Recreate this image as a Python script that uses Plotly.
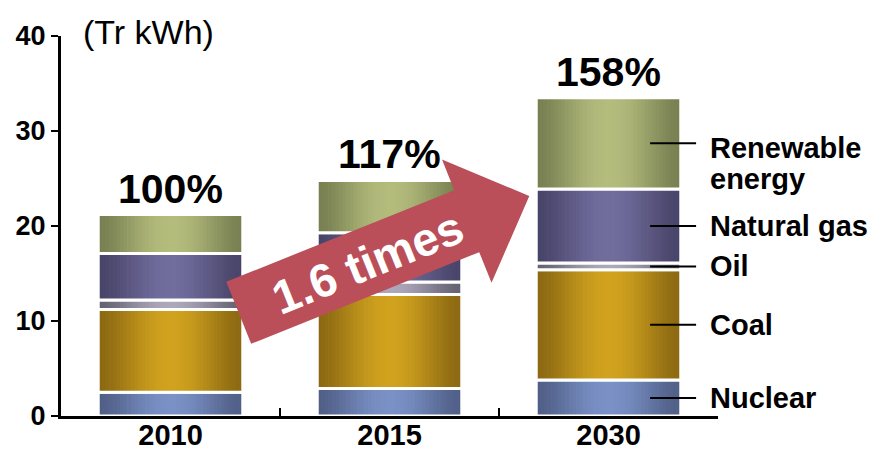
import numpy as np
import plotly.graph_objects as go

# Electricity generation by source (trillion kWh)
years = ["2010", "2015", "2030"]
sources = ["Nuclear", "Coal", "Oil", "Natural gas", "Renewable<br>energy"]
nuclear = [2.5, 2.9, 3.8]
coal = [8.7, 9.9, 11.6]
oil = [1.0, 1.3, 0.7]
natural_gas = [4.9, 5.2, 7.8]
renewable = [4.1, 5.5, 9.6]
growth_labels = ["100%", "117%", "158%"]
y_ticks = [0, 10, 20, 30, 40]
arrow_text = "1.6 times"
unit_text = "(Tr kWh)"

# (edge colour, centre colour) of the horizontal shading of each segment
shades = [
    ((80, 95, 135), (122, 145, 198)),    # nuclear
    ((140, 105, 18), (208, 162, 30)),    # coal
    ((100, 98, 115), (172, 168, 186)),   # oil
    ((72, 68, 105), (112, 108, 156)),    # natural gas
    ((120, 128, 82), (180, 188, 124)),   # renewable
]

FONT = "Liberation Sans, Arial, sans-serif"
W_PX, H_PX = 886, 450
M_L, M_R, M_T, M_B = 61, 168, 36, 34
PLOT_W = W_PX - M_L - M_R
PLOT_H = H_PX - M_T - M_B

segments = [nuclear, coal, oil, natural_gas, renewable]
bases = np.cumsum([[0.0] * len(years)] + segments[:-1], axis=0)
totals = np.sum(segments, axis=0)

fig = go.Figure()

BAR_W = 0.66
N_STRIPS = 40
strip_w = BAR_W / N_STRIPS
for seg, base, (edge, centre) in zip(segments, bases, shades):
    edge = np.array(edge, float)
    centre = np.array(centre, float)
    for k in range(N_STRIPS):
        t = (k + 0.5) / N_STRIPS
        f = np.sin(np.pi * t) ** 1.6
        c = edge + (centre - edge) * f
        colour = "rgb(%d,%d,%d)" % tuple(np.round(c).astype(int))
        w = strip_w * (1.2 if k < N_STRIPS - 1 else 1.0)
        fig.add_trace(go.Bar(
            x=years, y=seg, base=base,
            width=w, offset=-BAR_W / 2 + k * strip_w,
            marker=dict(color=colour, line=dict(width=0)),
            hoverinfo="skip", showlegend=False,
        ))
    # white separators round each segment
    fig.add_trace(go.Bar(
        x=years, y=seg, base=base,
        width=BAR_W, offset=-BAR_W / 2,
        marker=dict(color="rgba(0,0,0,0)", line=dict(color="white", width=3)),
        hoverinfo="skip", showlegend=False,
    ))

annotations = []
shapes = []

# growth percentages above the bars (category positions by index)
for i, (tot, lab) in enumerate(zip(totals, growth_labels)):
    annotations.append(dict(
        x=i, y=float(tot), xref="x", yref="y", text=lab, showarrow=False,
        yanchor="bottom", yshift=1,
        font=dict(family=FONT, size=41, color="black", weight="bold"),
    ))

# leader lines and source names beside the last bar
last = len(years) - 1
for name, seg, base in zip(sources, segments, bases):
    mid = float(base[last] + seg[last] / 2)
    shapes.append(dict(
        type="line", xref="x", yref="y",
        x0=last + 0.19, x1=last + 0.40, y0=mid, y1=mid,
        line=dict(color="black", width=2), layer="above",
    ))
    lines = name.split("<br>")
    for j, line in enumerate(lines):
        shift = -(5 + 31 * j) if len(lines) > 1 else 0
        annotations.append(dict(
            x=last + 0.455, y=mid, xref="x", yref="y", text=line,
            showarrow=False, xanchor="left", yanchor="middle",
            yshift=shift,
            font=dict(family=FONT, size=29, color="black", weight="bold"),
        ))

# unit label
annotations.append(dict(
    x=(81 - M_L) / PLOT_W, y=(H_PX - M_B - 32) / PLOT_H,
    xref="paper", yref="paper", text=unit_text, showarrow=False,
    xanchor="left", yanchor="middle",
    font=dict(family=FONT, size=34, color="black"),
))


# growth arrow, laid out in pixels and converted to paper coordinates
def to_paper(px, py):
    return (px - M_L) / PLOT_W, (H_PX - M_B - py) / PLOT_H


tail = np.array([238.7, 312.8])
tip = np.array([529.3, 196.0])
u = (tip - tail) / np.linalg.norm(tip - tail)
n = np.array([u[1], -u[0]])  # points up-left
head_len = 67.4
body_hw, head_hw = 33.4, 66.4
neck = tip - u * head_len
pts = [
    tail + n * body_hw,
    neck + n * body_hw,
    neck + n * head_hw,
    tip,
    neck - n * head_hw,
    neck - n * body_hw,
    tail - n * body_hw,
]
path = ""
for i, p in enumerate(pts):
    x, y = to_paper(*p)
    path += ("M" if i == 0 else "L") + " %.5f,%.5f " % (x, y)
path += "Z"
shapes.append(dict(
    type="path", xref="paper", yref="paper", path=path,
    fillcolor="#BA4F5A", line=dict(width=0), layer="above",
))
angle = np.degrees(np.arctan2(-(tip[1] - tail[1]), tip[0] - tail[0]))
tx, ty = to_paper(*(tail + u * 138 + n * -1))
annotations.append(dict(
    x=tx, y=ty, xref="paper", yref="paper", text=arrow_text, showarrow=False,
    textangle=-angle, xanchor="center", yanchor="middle",
    font=dict(family=FONT, size=47, color="white", weight="bold"),
))

fig.update_layout(
    width=W_PX, height=H_PX,
    margin=dict(l=M_L, r=M_R, t=M_T, b=M_B, pad=0),
    paper_bgcolor="white", plot_bgcolor="white",
    barmode="overlay", showlegend=False,
    annotations=annotations, shapes=shapes,
    xaxis=dict(
        type="category", range=[-0.5, len(years) - 0.5],
        showline=True, linecolor="black", linewidth=3,
        ticks="inside", tickson="boundaries", ticklen=8, tickwidth=2,
        tickcolor="black", showgrid=False, zeroline=False,
        ticklabelstandoff=-9,
        tickfont=dict(family=FONT, size=29, color="black", weight="bold"),
        automargin=False, fixedrange=True,
    ),
    yaxis=dict(
        range=[0, 40], tickvals=y_ticks,
        showline=True, linecolor="black", linewidth=3,
        ticks="outside", ticklen=7, tickwidth=2, tickcolor="black",
        showgrid=False, zeroline=False,
        tickfont=dict(family=FONT, size=27, color="black", weight="bold"),
        automargin=False, fixedrange=True,
    ),
)

fig.write_html("out.html", config={"displayModeBar": False})
